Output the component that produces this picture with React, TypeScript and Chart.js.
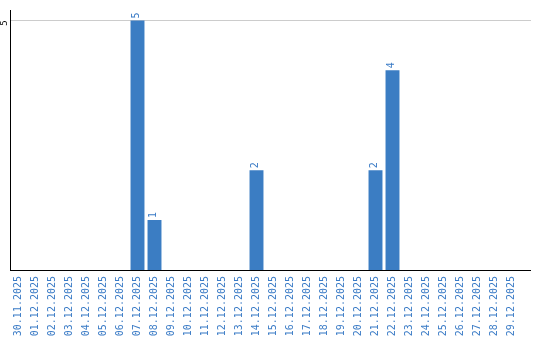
import React, { useEffect, useRef } from "react";
import { Chart, registerables } from "chart.js";

Chart.register(...registerables);

const categories: string[] = [
  "30.11.2025", "01.12.2025", "02.12.2025", "03.12.2025", "04.12.2025",
  "05.12.2025", "06.12.2025", "07.12.2025", "08.12.2025", "09.12.2025",
  "10.12.2025", "11.12.2025", "12.12.2025", "13.12.2025", "14.12.2025",
  "15.12.2025", "16.12.2025", "17.12.2025", "18.12.2025", "19.12.2025",
  "20.12.2025", "21.12.2025", "22.12.2025", "23.12.2025", "24.12.2025",
  "25.12.2025", "26.12.2025", "27.12.2025", "28.12.2025", "29.12.2025",
];

const counts: number[] = [
  0, 0, 0, 0, 0, 0, 0, 5, 1, 0,
  0, 0, 0, 0, 2, 0, 0, 0, 0, 0,
  0, 2, 4, 0, 0, 0, 0, 0, 0, 0,
];

const yTicks: number[] = [5];

const BAR_COLOR = "#3b7dc3";
const TEXT_BLUE = "#3a7bc6";
const LINE_END_X = 531;
const FONT = "'DejaVu Sans Mono'";

const valueLabels = {
  id: "valueLabels",
  afterDatasetsDraw(chart: any) {
    const ctx = chart.ctx;
    const meta = chart.getDatasetMeta(0);
    ctx.save();
    ctx.fillStyle = TEXT_BLUE;
    ctx.font = "10px " + FONT;
    ctx.textAlign = "left";
    ctx.textBaseline = "middle";
    meta.data.forEach((bar: any, i: number) => {
      const v = counts[i];
      if (!v) return;
      ctx.save();
      ctx.translate(bar.x - 1, bar.y - 2);
      ctx.rotate(-Math.PI / 2);
      ctx.fillText(String(v), 0, 0);
      ctx.restore();
    });
    ctx.restore();
  },
};

const extendLines = {
  id: "extendLines",
  beforeDatasetsDraw(chart: any) {
    const ctx = chart.ctx;
    const area = chart.chartArea;
    const y = chart.scales.y;
    ctx.save();
    ctx.lineWidth = 1;
    ctx.strokeStyle = "#cccccc";
    const gy = Math.round(y.getPixelForValue(yTicks[0])) + 0.5;
    ctx.beginPath();
    ctx.moveTo(area.right, gy);
    ctx.lineTo(LINE_END_X, gy);
    ctx.stroke();
    ctx.restore();
  },
  afterDraw(chart: any) {
    const ctx = chart.ctx;
    const area = chart.chartArea;
    ctx.save();
    ctx.lineWidth = 1;
    ctx.strokeStyle = "#000000";
    const by = Math.round(area.bottom) + 0.5;
    ctx.beginPath();
    ctx.moveTo(area.right - 1, by);
    ctx.lineTo(LINE_END_X, by);
    ctx.stroke();
    ctx.restore();
  },
};

export default function App() {
  const ref = useRef<HTMLCanvasElement>(null);

  useEffect(() => {
    document.body.style.margin = "0";
    Chart.defaults.font.family = FONT;
    const chart = new Chart(ref.current!, {
      type: "bar",
      data: {
        labels: categories,
        datasets: [
          {
            data: counts,
            backgroundColor: BAR_COLOR,
            borderWidth: 0,
            categoryPercentage: 1,
            barPercentage: 0.82,
          },
        ],
      },
      options: {
        responsive: false,
        animation: false,
        layout: { padding: { top: 10, right: 20, left: 0, bottom: 0 } },
        plugins: {
          legend: { display: false },
          tooltip: { enabled: false },
          title: { display: false },
        },
        scales: {
          x: {
            offset: true,
            grid: { display: false, drawTicks: false },
            border: { display: true, color: "#000000", width: 1 },
            ticks: {
              color: TEXT_BLUE,
              font: { size: 10, family: FONT },
              minRotation: 90,
              maxRotation: 90,
              padding: 6,
              autoSkip: false,
            },
            afterFit: (scale: any) => {
              scale.height = 70;
            },
          },
          y: {
            min: 0,
            max: 5.2,
            grid: { color: "#cccccc", drawTicks: false },
            border: { display: true, color: "#000000", width: 1 },
            afterBuildTicks: (scale: any) => {
              scale.ticks = yTicks.map((v) => ({ value: v }));
            },
            ticks: {
              color: "#000000",
              font: { size: 9, family: FONT },
              minRotation: 90,
              maxRotation: 90,
              padding: 5,
            },
            afterFit: (scale: any) => {
              scale.width = 10;
            },
          },
        },
      },
      plugins: [valueLabels, extendLines],
    });
    return () => chart.destroy();
  }, []);

  return <canvas ref={ref} width={540} height={340} style={{ display: "block" }} />;
}
